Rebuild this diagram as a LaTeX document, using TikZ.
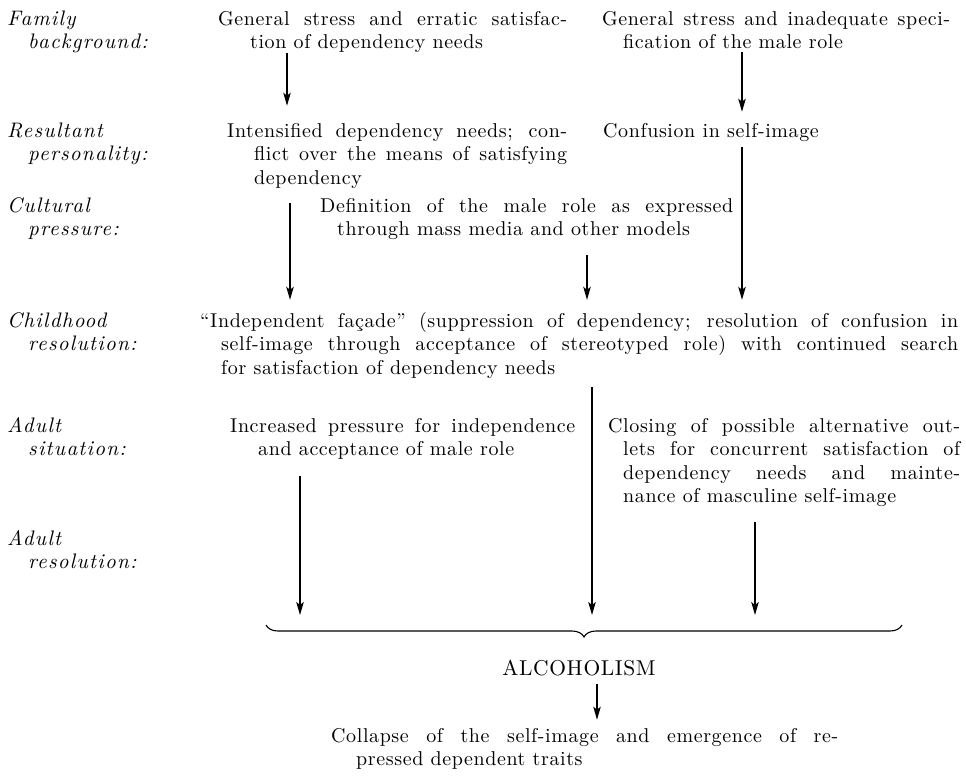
\documentclass[tikz,border=0pt]{standalone}
\usepackage{fontspec}
\setmainfont{lmroman10-regular.otf}[
  BoldFont=lmroman10-bold.otf,
  ItalicFont=lmroman10-italic.otf,
  UprightFeatures={LetterSpace=3},
  ItalicFeatures={LetterSpace=6}]
\usetikzlibrary{arrows.meta,decorations.pathreplacing}

\newcommand\diagfont{\fontsize{20}{23.5}\selectfont}
\newcommand\sidefont{\fontsize{21}{23}\selectfont\itshape}

\begin{document}
\begin{tikzpicture}[x=1pt, y=-1pt,
  hang/.style={execute at begin node={\hangindent=#1\hangafter=1\tolerance=10000\hbadness=10000\relax}},
  blk/.style={anchor=base west, inner sep=0pt, align=justify, font=\diagfont},
  lbl/.style={anchor=base west, inner sep=0pt, text width=200pt, align=left, font=\sidefont, hang=21pt},
  arr/.style={-{Stealth[length=13pt,width=7.5pt,inset=3pt]}, line width=1.2pt}
]
\useasboundingbox[fill=white] (0,0) rectangle (966,777);

% Row labels
\node[lbl] (fam) at (7,25)  {Family\linebreak background:};
\node[lbl] (res) at (7,137) {Resultant\linebreak personality:};
\node[lbl] (cul) at (7,212) {Cultural\linebreak pressure:};
\node[lbl] (chi) at (7,327) {Childhood\linebreak resolution:};
\node[lbl] (adu) at (7,432) {Adult\linebreak situation:};
\node[lbl] (adr) at (7,545) {Adult\linebreak resolution:};

% Text blocks
\node[blk, text width=349pt, hang=32pt] (fb1) at (218,25)
  {General stress and erratic satisfac-\linebreak tion of dependency needs};
\node[blk, text width=348pt, hang=21pt] (fb2) at (602,25)
  {General stress and inadequate speci-\linebreak fication of the male role};
\node[blk, text width=340pt, hang=27pt] (rp1) at (227,137)
  {Intensified dependency needs; con-\linebreak flict over the means of satisfying\linebreak dependency};
\node[blk] (rp2) at (603,137) {Confusion in self-image};
\node[blk, text width=413pt, hang=17pt] (cp) at (320,212)
  {Definition of the male role as expressed\linebreak through mass media and other models};
\node[blk, text width=758pt, hang=21pt] (cr) at (200,327)
  {“Independent façade” (suppression of dependency; resolution of confusion in\linebreak self-image through acceptance of stereotyped role) with continued search\linebreak for satisfaction of dependency needs};
\node[blk, text width=345pt, hang=28pt] (as1) at (230,432)
  {Increased pressure for independence\linebreak and acceptance of male role};
\node[blk, text width=352pt, hang=15pt] (as2) at (608,432)
  {Closing of possible alternative out-\linebreak lets for concurrent satisfaction of\linebreak dependency needs and mainte-\linebreak nance of masculine self-image};
\node[blk, anchor=base, font=\fontsize{21.5}{24}\selectfont] (alc) at (579,675) {ALCOHOLISM};
\node[blk, text width=507pt, hang=25pt] (col) at (331,742)
  {Collapse of the self-image and emergence of re-\linebreak pressed dependent traits};

% Brace
\coordinate (brl) at (266,625);
\coordinate (brr) at (902,625);
\draw[line width=1.1pt, decorate, decoration={brace, mirror, amplitude=12pt}] (brl) -- (brr);

% Arrows
\draw[arr, shorten >=17pt] (fb1.south -| 287,0) -- (rp1.north -| 287,0);
\draw[arr, shorten <=3.5pt, shorten >=11pt] (fb2.south -| 742,0) -- (rp2.north -| 742,0);
\draw[arr, shorten <=15pt, shorten >=12pt] (rp1.south -| 290,0) -- (cr.north -| 290,0);
\draw[arr, shorten <=15.5pt, shorten >=12pt] (cp.south -| 587,0) -- (cr.north -| 587,0);
\draw[arr, shorten <=6pt, shorten >=12pt] (rp2.south -| 742,0) -- (cr.north -| 742,0);
\draw[arr, shorten <=9pt, shorten >=10pt] (cr.south -| 592,0) -- (brl -| 592,0);
\draw[arr, shorten <=16pt, shorten >=10pt] (as1.south -| 300,0) -- (brl -| 300,0);
\draw[arr, shorten <=15pt, shorten >=10pt] (as2.south -| 755,0) -- (brl -| 755,0);
\draw[arr, shorten <=8pt, shorten >=8pt] (alc.south -| 597,0) -- (col.north -| 597,0);
\end{tikzpicture}
\end{document}
